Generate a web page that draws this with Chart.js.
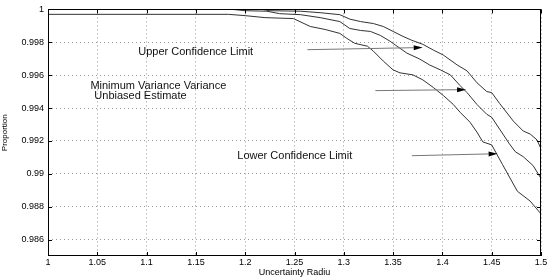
<!DOCTYPE html>
<html><head><meta charset="utf-8">
<script src="https://cdn.jsdelivr.net/npm/chart.js@4"></script>
<style>html,body{margin:0;padding:0;background:#fff;}#wrap{width:554px;height:277px;}</style>
</head><body><div id="wrap"><canvas id="c" width="554" height="277"></canvas></div>
<script>
const xTicks = [1,1.05,1.1,1.15,1.2,1.25,1.3,1.35,1.4,1.45,1.5];
const yTicks = [0.986,0.988,0.99,0.992,0.994,0.996,0.998,1];
const xLabel = 'Uncertainty Radiu';
const yLabel = 'Proportion';

const upperX = [1.0,1.217,1.225,1.256,1.276,1.296,1.306,1.317,1.330,1.340,1.350,1.360,1.369,1.380,1.391,1.401,1.415,1.425,1.435,1.445,1.450,1.458,1.472,1.482,1.489,1.496,1.5];
const upperY = [1.0,1.0,0.99992,0.99989,0.9998,0.99968,0.99941,0.99926,0.99914,0.99896,0.99866,0.99836,0.99812,0.99788,0.99752,0.99722,0.99662,0.99626,0.99554,0.995,0.99494,0.99428,0.9932,0.9926,0.99242,0.99206,0.99152];
const middleX = [1.0,1.187,1.200,1.222,1.235,1.256,1.276,1.296,1.306,1.317,1.327,1.337,1.347,1.354,1.364,1.377,1.387,1.398,1.408,1.418,1.425,1.435,1.445,1.450,1.458,1.468,1.474,1.482,1.492,1.5];
const middleY = [1.0,1.0,0.99992,0.99989,0.99974,0.99968,0.9995,0.99926,0.99884,0.99872,0.99866,0.99842,0.99806,0.99776,0.99734,0.99698,0.99662,0.99632,0.99602,0.99536,0.99494,0.99422,0.99362,0.99344,0.99272,0.99182,0.99134,0.99104,0.9905,0.98972];
const lowerX = [1.0,1.183,1.200,1.220,1.249,1.266,1.281,1.296,1.303,1.311,1.324,1.330,1.340,1.350,1.357,1.370,1.380,1.391,1.401,1.411,1.418,1.428,1.435,1.441,1.450,1.461,1.476,1.489,1.5];
const lowerY = [0.9997,0.9997,0.99962,0.9995,0.99944,0.99896,0.99878,0.99854,0.99824,0.99794,0.99776,0.99746,0.99686,0.99632,0.99614,0.99602,0.99572,0.99524,0.99476,0.99422,0.99374,0.99314,0.99254,0.99194,0.99176,0.99056,0.98894,0.98834,0.98756];

const noteTexts = ['Upper Confidence Limit','Minimum Variance Variance','Unbiased Estimate','Lower Confidence Limit'];
const noteX = [1.0915,1.043,1.047,1.192];
const noteY = [0.9974,0.99536,0.99476,0.9911];
const arrowFromX = [1.263,1.332,1.369];
const arrowFromY = [0.99755,0.99506,0.9911];
const arrowToX = [1.380,1.424,1.456];
const arrowToY = [0.99768,0.99512,0.99122];

const FONT = '"Liberation Sans", Arial, Helvetica, sans-serif';
const pts = (xs, ys) => xs.map((x, i) => ({x, y: ys[i]}));

const overlay = {
  id: 'overlay',
  afterDatasetsDraw(chart) {
    const {ctx, chartArea: a, scales: {x, y}} = chart;
    ctx.save();
    ctx.strokeStyle = '#000';
    ctx.lineWidth = 1;
    ctx.strokeRect(Math.round(a.left) + 0.5, Math.round(a.top) + 0.5, Math.round(a.right - a.left) - 1, Math.round(a.bottom - a.top) - 1);
    const tl = 4;
    ctx.beginPath();
    xTicks.forEach(v => {
      const px = Math.round(x.getPixelForValue(v)) + 0.5;
      ctx.moveTo(px, a.bottom); ctx.lineTo(px, a.bottom - tl);
      ctx.moveTo(px, a.top); ctx.lineTo(px, a.top + tl);
    });
    yTicks.forEach(v => {
      const py = Math.round(y.getPixelForValue(v)) + 0.5;
      ctx.moveTo(a.left, py); ctx.lineTo(a.left + tl, py);
      ctx.moveTo(a.right, py); ctx.lineTo(a.right - tl, py);
    });
    ctx.stroke();
    for (let i = 0; i < arrowFromX.length; i++) {
      const x0 = x.getPixelForValue(arrowFromX[i]), y0 = y.getPixelForValue(arrowFromY[i]);
      const x1 = x.getPixelForValue(arrowToX[i]), y1 = y.getPixelForValue(arrowToY[i]);
      const ang = Math.atan2(y1 - y0, x1 - x0);
      const hl = 9, hw = 2.5;
      const bx = x1 - hl * Math.cos(ang), by = y1 - hl * Math.sin(ang);
      ctx.strokeStyle = '#777';
      ctx.lineWidth = 1;
      ctx.beginPath(); ctx.moveTo(x0, y0); ctx.lineTo(bx, by); ctx.stroke();
      ctx.fillStyle = '#000';
      ctx.beginPath();
      ctx.moveTo(x1, y1);
      ctx.lineTo(bx + hw * Math.sin(ang), by - hw * Math.cos(ang));
      ctx.lineTo(bx - hw * Math.sin(ang), by + hw * Math.cos(ang));
      ctx.closePath(); ctx.fill();
    }
    ctx.fillStyle = '#111';
    ctx.font = '11px ' + FONT;
    ctx.textAlign = 'left';
    ctx.textBaseline = 'middle';
    noteTexts.forEach((t, i) => {
      ctx.fillText(t, x.getPixelForValue(noteX[i]), y.getPixelForValue(noteY[i]));
    });
    ctx.restore();
  }
};

const lineStyle = {borderColor: '#333', borderWidth: 1, pointRadius: 0, tension: 0, fill: false};

new Chart(document.getElementById('c'), {
  type: 'line',
  data: {
    datasets: [
      Object.assign({label: 'Upper Confidence Limit', data: pts(upperX, upperY)}, lineStyle),
      Object.assign({label: 'Minimum Variance Unbiased Estimate', data: pts(middleX, middleY)}, lineStyle),
      Object.assign({label: 'Lower Confidence Limit', data: pts(lowerX, lowerY)}, lineStyle)
    ]
  },
  options: {
    responsive: false,
    animation: false,
    devicePixelRatio: 1,
    layout: {padding: {top: 6, right: 13, left: 0, bottom: 0}},
    plugins: {legend: {display: false}, tooltip: {enabled: false}},
    scales: {
      x: {
        type: 'linear', min: 1, max: 1.5,
        afterBuildTicks: s => { s.ticks = xTicks.map(v => ({value: v})); },
        afterFit: s => { s.height = 21; },
        grid: {color: '#999', lineWidth: 1, drawTicks: false},
        border: {display: false, dash: [1, 3]},
        ticks: {padding: 1, color: '#000', font: {family: FONT, size: 9}, maxRotation: 0, autoSkip: false,
                callback: v => String(+v.toFixed(2))},
        title: {display: true, text: xLabel, color: '#000', font: {family: FONT, size: 9, lineHeight: 1.0}, padding: 0}
      },
      y: {
        type: 'linear', min: 0.985, max: 1,
        afterBuildTicks: s => { s.ticks = yTicks.map(v => ({value: v})); },
        afterFit: s => { s.width = 48; },
        grid: {color: '#999', lineWidth: 1, drawTicks: false},
        border: {display: false, dash: [1, 3]},
        ticks: {padding: 4, color: '#000', font: {family: FONT, size: 9}, autoSkip: false,
                callback: v => String(+v.toFixed(3))},
        title: {display: true, text: yLabel, color: '#000', font: {family: FONT, size: 8}, padding: 0}
      }
    }
  },
  plugins: [overlay]
});
</script></body></html>
